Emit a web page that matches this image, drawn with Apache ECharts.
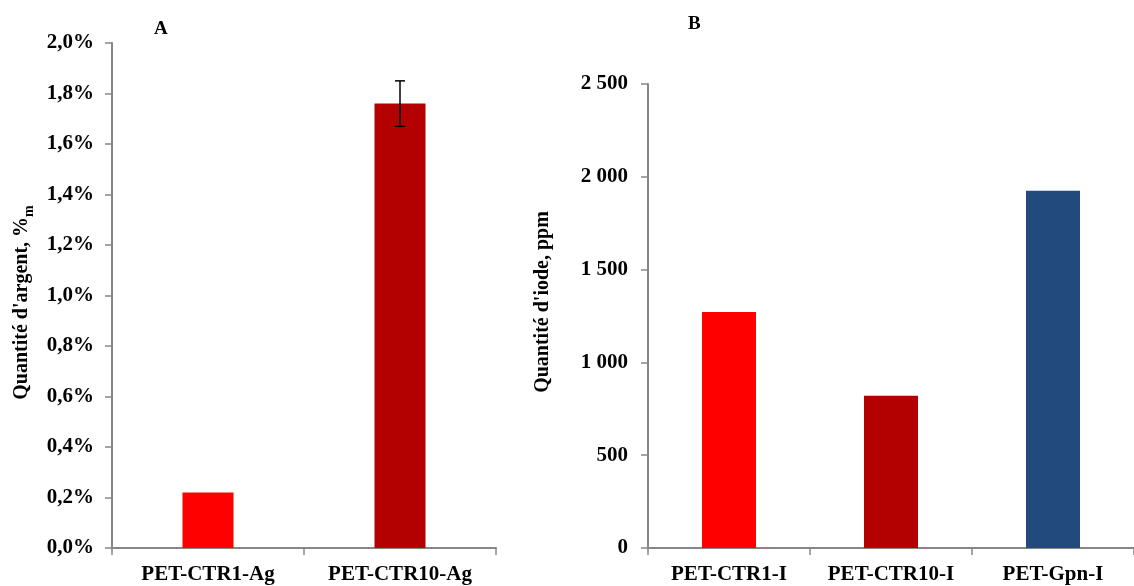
<!DOCTYPE html>
<html>
<head>
<meta charset="utf-8">
<script src="https://cdn.jsdelivr.net/npm/echarts@6/dist/echarts.min.js"></script>
<style>
html,body{margin:0;padding:0;background:#fff;}
#chart{width:1134px;height:586px;}
</style>
</head>
<body>
<div id="chart"></div>
<script>
// ---- Data ----
const categoriesA = ['PET-CTR1-Ag', 'PET-CTR10-Ag'];
const valuesA = [0.22, 1.76];           // %
const errorsA = [null, 0.09];           // ± %
const colorsA = ['#FF0000', '#B30000'];
const yTicksA = ['0,0%', '0,2%', '0,4%', '0,6%', '0,8%', '1,0%', '1,2%', '1,4%', '1,6%', '1,8%', '2,0%'];

const categoriesB = ['PET-CTR1-I', 'PET-CTR10-I', 'PET-Gpn-I'];
const valuesB = [1272, 820, 1925];      // ppm
const colorsB = ['#FF0000', '#B30000', '#224A7D'];
const yTicksB = ['0', '500', '1 000', '1 500', '2 000', '2 500'];

const FONT = '"Liberation Serif", "Times New Roman", serif';
const axisColor = '#878787';

const chart = echarts.init(document.getElementById('chart'), null, {renderer: 'canvas'});

const errData = [];
errorsA.forEach((e, i) => { if (e != null) errData.push([i, valuesA[i] - e, valuesA[i] + e]); });

function yAxisCommon() {
  return {
    type: 'value',
    min: 0,
    splitLine: {show: false},
    axisLine: {show: true, lineStyle: {color: axisColor, width: 2}},
    axisTick: {show: true, length: 7, lineStyle: {color: axisColor, width: 1.5}},
    nameLocation: 'middle',
    nameRotate: 90
  };
}
function xAxisCommon() {
  return {
    type: 'category',
    axisLine: {show: true, lineStyle: {color: axisColor, width: 2}},
    axisTick: {show: true, interval: 0, length: 7, lineStyle: {color: axisColor, width: 1.5}},
    axisLabel: {interval: 0, hideOverlap: false, fontFamily: FONT, fontWeight: 'bold', fontSize: 21, color: '#000', margin: 16}
  };
}

const option = {
  animation: false,
  backgroundColor: '#fff',
  title: [
    {text: 'A', left: 149, top: 15, textStyle: {fontFamily: FONT, fontWeight: 'bold', fontSize: 19, color: '#000'}},
    {text: 'B', left: 683, top: 10, textStyle: {fontFamily: FONT, fontWeight: 'bold', fontSize: 19, color: '#000'}}
  ],
  grid: [
    {left: 112, top: 43, width: 384, height: 505},
    {left: 648, top: 84, width: 498, height: 464}
  ],
  xAxis: [
    Object.assign(xAxisCommon(), {gridIndex: 0, data: categoriesA}),
    Object.assign(xAxisCommon(), {gridIndex: 1, data: categoriesB})
  ],
  yAxis: [
    Object.assign(yAxisCommon(), {
      gridIndex: 0, max: 2.0, interval: 0.2,
      name: '{a|Quantité d\'argent, %}{s|m}',
      nameGap: 76,
      nameTextStyle: {
        fontFamily: FONT, fontWeight: 'bold', fontSize: 20, color: '#000',
        padding: [0, 14, 0, 0],
        rich: {
          a: {fontFamily: FONT, fontWeight: 'bold', fontSize: 20, color: '#000', verticalAlign: 'middle', lineHeight: 28},
          s: {fontFamily: FONT, fontWeight: 'bold', fontSize: 14, color: '#000', verticalAlign: 'bottom', lineHeight: 28}
        }
      },
      axisLabel: {
        fontFamily: FONT, fontWeight: 'bold', fontSize: 21, color: '#000', margin: 18,
        formatter: v => yTicksA[Math.round(v / 0.2)]
      }
    }),
    Object.assign(yAxisCommon(), {
      gridIndex: 1, max: 2500, interval: 500,
      name: 'Quantité d\'iode, ppm',
      nameGap: 95,
      nameTextStyle: {fontFamily: FONT, fontWeight: 'bold', fontSize: 20, color: '#000', padding: [0, 0, 0, 28]},
      axisLabel: {
        fontFamily: FONT, fontWeight: 'bold', fontSize: 21, color: '#000', margin: 20,
        formatter: v => yTicksB[Math.round(v / 500)]
      }
    })
  ],
  series: [
    {
      type: 'bar', xAxisIndex: 0, yAxisIndex: 0, barWidth: 51,
      data: valuesA.map((v, i) => ({value: v, itemStyle: {color: colorsA[i]}}))
    },
    {
      type: 'custom', xAxisIndex: 0, yAxisIndex: 0, z: 10,
      data: errData,
      renderItem: function (params, api) {
        const x = api.coord([api.value(0), api.value(1)])[0];
        const yLow = api.coord([api.value(0), api.value(1)])[1];
        const yHigh = api.coord([api.value(0), api.value(2)])[1];
        const cap = 5;
        const style = {stroke: '#000', lineWidth: 1.5};
        return {
          type: 'group',
          children: [
            {type: 'line', shape: {x1: x, y1: yLow, x2: x, y2: yHigh}, style: style},
            {type: 'line', shape: {x1: x - cap, y1: yLow, x2: x + cap, y2: yLow}, style: style},
            {type: 'line', shape: {x1: x - cap, y1: yHigh, x2: x + cap, y2: yHigh}, style: style}
          ]
        };
      }
    },
    {
      type: 'bar', xAxisIndex: 1, yAxisIndex: 1, barWidth: 54,
      data: valuesB.map((v, i) => ({value: v, itemStyle: {color: colorsB[i]}}))
    }
  ]
};
chart.setOption(option);
</script>
</body>
</html>
